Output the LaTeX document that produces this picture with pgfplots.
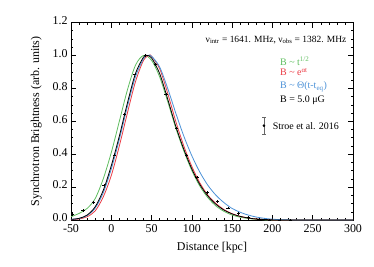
\documentclass[border=0pt]{standalone}
\usepackage{fontspec}
\setmainfont{Liberation Serif}
\usepackage{pgfplots}
\pgfplotsset{compat=1.18}
\definecolor{cgreen}{RGB}{95,190,95}
\definecolor{cred}{RGB}{235,60,70}
\definecolor{cblue}{RGB}{75,145,215}
\begin{document}
\begin{tikzpicture}
\path[use as bounding box] (-71bp,-47bp) rectangle (303bp,220bp);
\begin{axis}[
  scale only axis, width=282bp, height=197.5bp,
  at={(0,0)}, anchor=south west,
  xmin=-50, xmax=300, ymin=0, ymax=1.2,
  xtick={-50,0,50,100,150,200,250,300}, minor x tick num=4,
  ytick={0,0.2,0.4,0.6,0.8,1.0,1.2}, minor y tick num=3,
  tick align=inside, major tick length=5bp, minor tick length=2.5bp,
  tick style={black, line width=0.5pt},
  axis line style={line width=0.6pt},
  /pgf/number format/assume math mode=true,
  tick label style={font=\fontsize{12}{14}\selectfont},
  yticklabel style={yshift=2bp, /pgf/number format/.cd, fixed, fixed zerofill, precision=1},
  xticklabel style={yshift=-1bp, /pgf/number format/.cd, fixed, precision=0},
  xlabel={Distance [kpc]}, ylabel={Synchrotron Brightness (arb. units)},
  label style={font=\fontsize{12}{14}\selectfont},
  xlabel style={at={(axis description cs:0.5,-0.142)}, anchor=center},
  ylabel style={at={(axis description cs:-0.123,0.5)}, anchor=center},
  every axis plot/.append style={line width=0.8pt},
]
% green: B ~ t^{1/2}
\addplot[cgreen, smooth] coordinates {
(-50,0.02) (-40,0.04) (-30,0.07) (-20,0.13) (-10,0.25) (0,0.41) (10,0.6) (20,0.79) (30,0.94) (40,1.0) (50,0.97) (60,0.87) (70,0.72) (80,0.56) (90,0.42) (100,0.3) (110,0.205) (120,0.135) (130,0.085) (140,0.052) (150,0.03) (160,0.017) (170,0.009) (180,0.004) (190,0.002) (200,0.0) (300,0.0)};
% red: B ~ e^{at}
\addplot[cred, smooth] coordinates {
(-50,0.002) (-40,0.006) (-30,0.02) (-20,0.055) (-10,0.14) (0,0.27) (10,0.45) (20,0.65) (30,0.84) (40,0.97) (47,1.0) (50,0.995) (60,0.92) (70,0.77) (80,0.6) (90,0.45) (100,0.325) (110,0.225) (120,0.15) (130,0.1) (140,0.063) (150,0.038) (160,0.022) (170,0.012) (180,0.006) (190,0.003) (200,0.001) (210,0.0) (300,0.0)};
% blue: B ~ Theta(t-t_eq)
\addplot[cblue, smooth] coordinates {
(-50,0.004) (-40,0.009) (-30,0.027) (-20,0.072) (-10,0.165) (0,0.31) (10,0.49) (20,0.69) (30,0.87) (40,0.98) (45,1.0) (50,0.995) (60,0.93) (70,0.8) (80,0.65) (90,0.51) (100,0.39) (110,0.29) (120,0.21) (130,0.15) (140,0.105) (150,0.07) (160,0.047) (170,0.03) (180,0.018) (190,0.01) (200,0.005) (210,0.002) (220,0.001) (230,0.0) (300,0.0)};
% black: B = 5.0 muG
\addplot[black, smooth] coordinates {
(-50,0.004) (-40,0.01) (-30,0.03) (-20,0.08) (-10,0.18) (0,0.33) (10,0.51) (20,0.71) (30,0.89) (40,0.99) (44,1.0) (50,0.985) (60,0.89) (70,0.735) (80,0.57) (90,0.43) (100,0.31) (110,0.215) (120,0.145) (130,0.095) (140,0.06) (150,0.037) (160,0.022) (170,0.012) (180,0.006) (190,0.003) (200,0.001) (210,0.0) (300,0.0)};
% data (Stroe et al. 2016)
\addplot[black, only marks, mark=-, mark size=1.6pt, line width=0.6pt,
  error bars/.cd, y dir=both, y explicit,
  error bar style={line width=0.5pt}, error mark=none] coordinates {
(-47.9,0.035) +- (0,0.008)
(-35.0,0.057) +- (0,0.008)
(-22.2,0.108) +- (0,0.008)
(-9.3,0.212) +- (0,0.008)
(3.5,0.395) +- (0,0.008)
(16.4,0.640) +- (0,0.008)
(29.2,0.888) +- (0,0.008)
(42.1,1.000) +- (0,0.008)
(54.9,0.945) +- (0,0.008)
(67.8,0.766) +- (0,0.008)
(80.6,0.560) +- (0,0.008)
(93.5,0.392) +- (0,0.008)
(106.3,0.262) +- (0,0.008)
(119.2,0.169) +- (0,0.008)
(132.0,0.112) +- (0,0.008)
(144.9,0.073) +- (0,0.008)
(157.7,0.041) +- (0,0.008)
(170.6,0.016) +- (0,0.008)
(183.4,0.004) +- (0,0.008)
(196.3,0.001) +- (0,0.008)
(209.1,0.000) +- (0,0.008)
(222.0,0.000) +- (0,0.008)
};
% legend symbol
\addplot[black!60, only marks, mark=*, mark size=0.9pt, mark options={black},
  error bars/.cd, y dir=both, y explicit,
  error bar style={black!60, line width=0.5pt},
  error mark options={rotate=90, mark size=1.8pt, black!60}] coordinates {
(189.5,0.573) +- (0,0.05)};
\node[anchor=east, font=\fontsize{9.5}{11}\selectfont, inner sep=0pt] at (axis cs:292,1.093)
  {ν\textsubscript{intr} = 1641. MHz, ν\textsubscript{obs} = 1382. MHz};
\node[anchor=west, font=\fontsize{10}{12}\selectfont, inner sep=0pt, text=cgreen] at (axis cs:209.3,0.965)
  {B \textasciitilde{} t\textsuperscript{1/2}};
\node[anchor=west, font=\fontsize{10}{12}\selectfont, inner sep=0pt, text=cred] at (axis cs:209.3,0.898)
  {B \textasciitilde{} e\textsuperscript{αt}};
\node[anchor=west, font=\fontsize{10}{12}\selectfont, inner sep=0pt, text=cblue] at (axis cs:209.3,0.809)
  {B \textasciitilde{} Θ(t-t\textsubscript{eq})};
\node[anchor=west, font=\fontsize{10}{12}\selectfont, inner sep=0pt] at (axis cs:209.3,0.727)
  {B = 5.0 μG};
\node[anchor=west, font=\fontsize{10}{12}\selectfont, inner sep=0pt] at (axis cs:200.2,0.569)
  {Stroe et al. 2016};
\end{axis}
\end{tikzpicture}
\end{document}
